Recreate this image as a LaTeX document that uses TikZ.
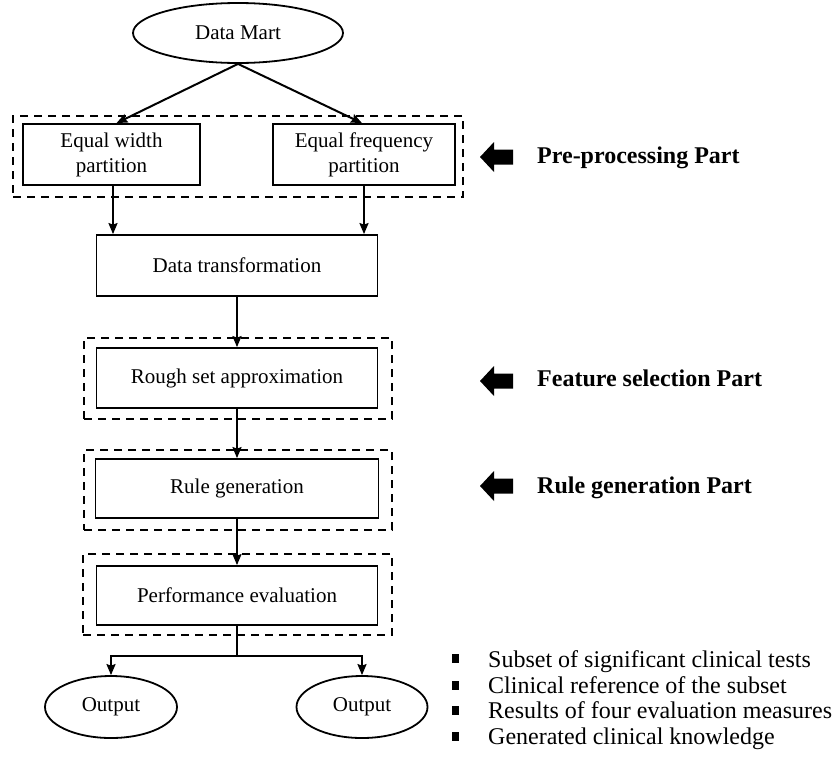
\documentclass[tikz,border=0pt]{standalone}
\usepackage{fontspec}
\setmainfont{Liberation Serif}
\usetikzlibrary{arrows.meta,shapes.geometric}
\begin{document}
\begin{tikzpicture}[x=1pt,y=-1pt,
  box/.style={draw,line width=1.8pt,rectangle,inner sep=0pt,align=center,font=\fontsize{21}{25}\selectfont},
  oval/.style={draw,line width=1.8pt,ellipse,inner sep=0pt,font=\fontsize{21}{25}\selectfont},
  dbox/.style={draw,line width=2.2pt,dash pattern=on 8pt off 6pt,rectangle,inner sep=0pt},
  conn/.style={line width=2pt,-{Stealth[length=11pt,width=9pt,inset=1.5pt]}},
  plain/.style={line width=2pt},
  partlabel/.style={anchor=base west,font=\fontsize{24}{28}\selectfont\bfseries,inner sep=0pt},
  itemtext/.style={anchor=base west,font=\fontsize{24}{26}\selectfont,inner sep=0pt},
  bigarrow/.style={fill=black}]
\useasboundingbox (0,0) rectangle (840,766);

% dashed part frames
\node[dbox,minimum width=450,minimum height=81] (pp) at (238,156.5) {};
\node[dbox,minimum width=308,minimum height=81] (fs) at (238,378.5) {};
\node[dbox,minimum width=308,minimum height=80] (rp) at (238,490) {};
\node[dbox,minimum width=309,minimum height=81] (ep) at (237.5,594.5) {};

% main nodes
\node[oval,minimum width=210,minimum height=60] (dm) at (238,33) {Data Mart};
\node[box,minimum width=177,minimum height=61] (ew) at (111.5,154.5) {Equal width\\partition};
\node[box,minimum width=182,minimum height=61] (ef) at (364,154.5) {Equal frequency\\partition};
\node[box,minimum width=281,minimum height=61] (dt) at (237,265.5) {Data transformation};
\node[box,minimum width=281,minimum height=60] (rs) at (237,378) {Rough set approximation};
\node[box,minimum width=283,minimum height=59] (rg) at (237,488.5) {Rule generation};
\node[box,minimum width=281,minimum height=59] (pe) at (237,595.5) {Performance evaluation};
\node[oval,minimum width=132,minimum height=62] (o1) at (111,707) {Output};
\node[oval,minimum width=131,minimum height=62] (o2) at (362,707) {Output};

% connectors
\draw[conn] (dm.south) -- ([xshift=5]ew.north);
\draw[conn] (dm.south) -- ([xshift=-2]ef.north);
\draw[conn] ([xshift=1.5]ew.south) -- ([xshift=1.5]ew.south |- dt.north);
\draw[conn] (ef.south) -- (ef.south |- dt.north);
\draw[conn] (dt.south) -- (rs.north);
\draw[conn] (rs.south) -- (rg.north);
\draw[conn] (rg.south) -- (pe.north);
\coordinate (br) at (237,656);
\draw[plain] (pe.south) -- (br);
\draw[conn] (br) -| (o1.north);
\draw[conn] (br) -| (o2.north);

% part labels with block arrows
\foreach \c/\b/\t/\nm in {157/163/Pre-processing Part/lp, 381/386/Feature selection Part/lf, 486/493/Rule generation Part/lr}{
  \fill[bigarrow] (480,\c) -- (494,\c-15) -- (494,\c-7.5) -- (513,\c-7.5) -- (513,\c+7.5) -- (494,\c+7.5) -- (494,\c+15) -- cycle;
  \node[partlabel] (\nm) at (537,\b) {\t};
}

% bullet list
\foreach \c/\b/\t/\nm in {658/667/Subset of significant clinical tests/b1, 685/693/Clinical reference of the subset/b2, 710/718/Results of four evaluation measures/b3, 736/744/Generated clinical knowledge/b4}{
  \fill (452,\c-4.5) rectangle (458.5,\c+4.5);
  \node[itemtext] (\nm) at (488,\b) {\t};
}
\end{tikzpicture}
\end{document}
